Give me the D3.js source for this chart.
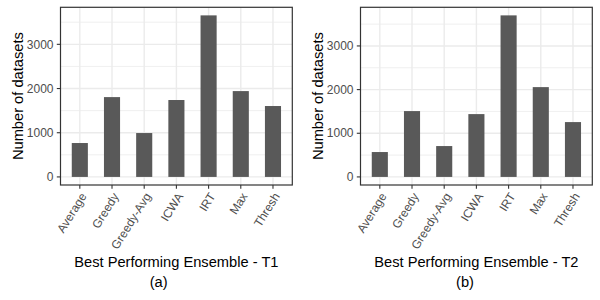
<!DOCTYPE html>
<html><head><meta charset="utf-8">
<script src="https://cdn.jsdelivr.net/npm/d3@7"></script>
<style>
html,body{margin:0;padding:0;background:#fff;}
svg{display:block;font-family:"Liberation Sans",Arial,sans-serif;}
</style></head>
<body><svg id="c" width="600" height="300"></svg>
<script>
const categories = ["Average","Greedy","Greedy-Avg","ICWA","IRT","Max","Thresh"];
const valuesT1 = [767, 1806, 993, 1740, 3655, 1942, 1604];
const valuesT2 = [570, 1508, 707, 1439, 3700, 2057, 1256];
const yTicks = [0, 1000, 2000, 3000];
const yMinor = [500, 1500, 2500, 3500];
const xTitles = ["Best Performing Ensemble - T1", "Best Performing Ensemble - T2"];
const captions = ["(a)", "(b)"];
const yTitle = "Number of datasets";

(function(){
const svg = d3.select("#c");
const panels = [
  {vals: valuesT1, left: 60.5, right: 292.3, title: xTitles[0], cap: captions[0], capX: 158.7, ytx: 23},
  {vals: valuesT2, left: 360.5, right: 592.3, title: xTitles[1], cap: captions[1], capX: 465, ytx: 323}
];
const pTop = 7.3, pBottom = 185;
const ANG = 58;

panels.forEach(p => {
  const mx = d3.max(p.vals);
  const x = d3.scaleBand().domain(categories).range([p.left, p.right]).paddingInner(0.5).paddingOuter(0.35);
  const y = d3.scaleLinear().domain([-0.05*mx, 1.05*mx]).range([pBottom, pTop]);
  const g = svg.append("g");
  g.selectAll(".mn").data(yMinor).enter().append("line")
    .attr("x1", p.left).attr("x2", p.right)
    .attr("y1", d => y(d)).attr("y2", d => y(d))
    .attr("stroke", "#EBEBEB").attr("stroke-width", 0.8);
  g.selectAll(".mj").data(yTicks).enter().append("line")
    .attr("x1", p.left).attr("x2", p.right)
    .attr("y1", d => y(d)).attr("y2", d => y(d))
    .attr("stroke", "#EBEBEB").attr("stroke-width", 1.4);
  g.selectAll(".mv").data(categories).enter().append("line")
    .attr("x1", d => x(d) + x.bandwidth()/2).attr("x2", d => x(d) + x.bandwidth()/2)
    .attr("y1", pTop).attr("y2", pBottom)
    .attr("stroke", "#EBEBEB").attr("stroke-width", 1.4);
  g.selectAll(".bar").data(p.vals).enter().append("rect")
    .attr("x", (d,i) => x(categories[i]))
    .attr("width", x.bandwidth())
    .attr("y", d => y(d))
    .attr("height", d => y(0) - y(d))
    .attr("fill", "#595959");
  g.append("rect").attr("x", p.left).attr("y", pTop)
    .attr("width", p.right - p.left).attr("height", pBottom - pTop)
    .attr("fill", "none").attr("stroke", "#333333").attr("stroke-width", 1.2);
  g.selectAll(".yt").data(yTicks).enter().append("line")
    .attr("x1", p.left - 3.7).attr("x2", p.left)
    .attr("y1", d => y(d)).attr("y2", d => y(d))
    .attr("stroke", "#333333").attr("stroke-width", 1.1);
  g.selectAll(".yl").data(yTicks).enter().append("text")
    .attr("x", p.left - 7).attr("y", d => y(d)).attr("dy", "0.35em")
    .attr("text-anchor", "end").attr("font-size", "12px").attr("fill", "#4D4D4D")
    .text(d => d);
  g.selectAll(".xt").data(categories).enter().append("line")
    .attr("x1", d => x(d) + x.bandwidth()/2).attr("x2", d => x(d) + x.bandwidth()/2)
    .attr("y1", pBottom).attr("y2", pBottom + 3.7)
    .attr("stroke", "#333333").attr("stroke-width", 1.1);
  g.selectAll(".xl").data(categories).enter().append("text")
    .attr("transform", d => `translate(${x(d) + x.bandwidth()/2},${pBottom + 6.6}) rotate(${-ANG})`)
    .attr("dy", "0.71em")
    .attr("text-anchor", "end").attr("font-size", "12px").attr("fill", "#4D4D4D")
    .text(d => d);
  g.append("text").attr("x", (p.left + p.right)/2).attr("y", 267.3)
    .attr("text-anchor", "middle").attr("font-size", "14.67px").attr("fill", "#000")
    .text(p.title);
  g.append("text").attr("x", p.capX).attr("y", 287.4)
    .attr("text-anchor", "middle").attr("font-size", "14.67px").attr("fill", "#000")
    .text(p.cap);
  g.append("text").attr("transform", `translate(${p.ytx},${(pTop+pBottom)/2}) rotate(-90)`)
    .attr("text-anchor", "middle").attr("font-size", "14.67px").attr("fill", "#000")
    .text(yTitle);
});
})();
</script></body></html>
